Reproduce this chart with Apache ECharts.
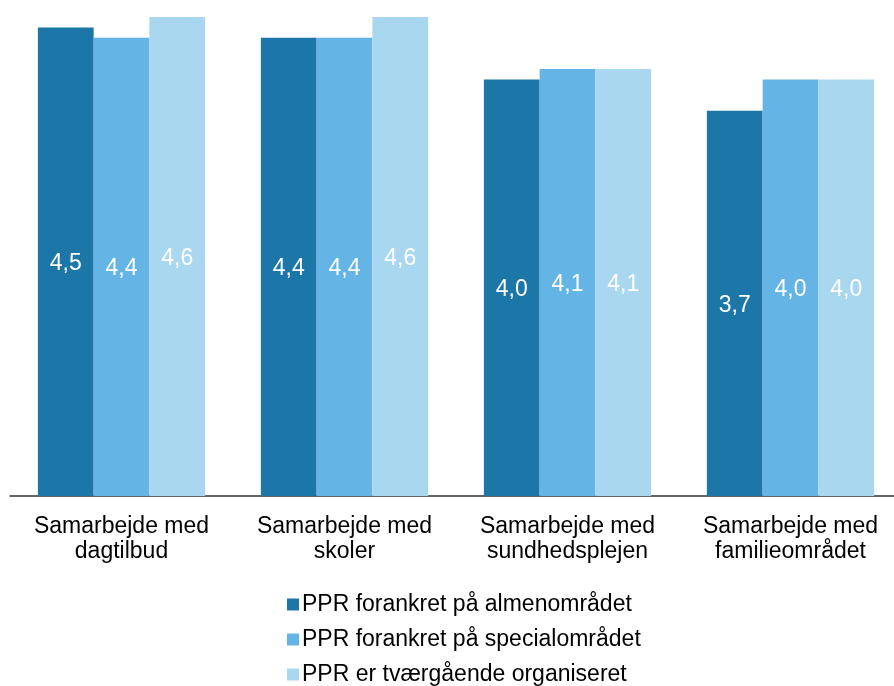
<!DOCTYPE html>
<html>
<head>
<meta charset="utf-8">
<script src="https://cdn.jsdelivr.net/npm/echarts@6/dist/echarts.min.js"></script>
<style>
  html, body { margin: 0; padding: 0; background: #fff; }
  #chart { width: 894px; height: 686px; }
</style>
</head>
<body>
<div id="chart"></div>
<script>
// kategorier og serier
var categories = ['Samarbejde med\ndagtilbud', 'Samarbejde med\nskoler', 'Samarbejde med\nsundhedsplejen', 'Samarbejde med\nfamilieområdet'];
var seriesNames = ['PPR forankret på almenområdet', 'PPR forankret på specialområdet', 'PPR er tværgående organiseret'];
var almen = [4.5, 4.4, 4.0, 3.7];
var special = [4.4, 4.4, 4.1, 4.0];
var tvaer = [4.6, 4.6, 4.1, 4.0];
var colors = ['#1d76a8', '#64b5e5', '#a9d7f0'];

var font = 'Liberation Sans, Arial, sans-serif';

function makeSeries(name, data, color) {
    return {
        name: name,
        type: 'bar',
        barGap: '0%',
        barCategoryGap: '25%',
        itemStyle: { color: color },
        label: {
            show: true,
            position: 'inside',
            offset: [0, 2],
            color: '#fff',
            fontFamily: font,
            fontSize: 23,
            formatter: function (p) { return p.value.toFixed(1).replace('.', ','); }
        },
        data: data
    };
}

var chart = echarts.init(document.getElementById('chart'));
chart.setOption({
    animation: false,
    textStyle: { fontFamily: font },
    grid: { left: 10, width: 892, top: 17, bottom: 190, containLabel: false, outerBoundsMode: 'none' },
    legend: {
        orient: 'vertical',
        left: 282,
        top: 588,
        height: 130,
        itemWidth: 12,
        itemHeight: 12,
        itemGap: 12,
        icon: 'rect',
        textStyle: { fontSize: 23, color: '#000', fontFamily: font, padding: [0, 0, 0, -2] },
        data: seriesNames
    },
    xAxis: {
        type: 'category',
        data: categories,
        axisLine: { lineStyle: { color: '#333', width: 1.5 } },
        axisTick: { show: false },
        axisLabel: { color: '#000', fontSize: 23, lineHeight: 25, margin: 18, interval: 0 }
    },
    yAxis: {
        type: 'value',
        min: 0,
        max: 4.6,
        show: false
    },
    series: [
        makeSeries(seriesNames[0], almen, colors[0]),
        makeSeries(seriesNames[1], special, colors[1]),
        makeSeries(seriesNames[2], tvaer, colors[2])
    ]
});
</script>
</body>
</html>
